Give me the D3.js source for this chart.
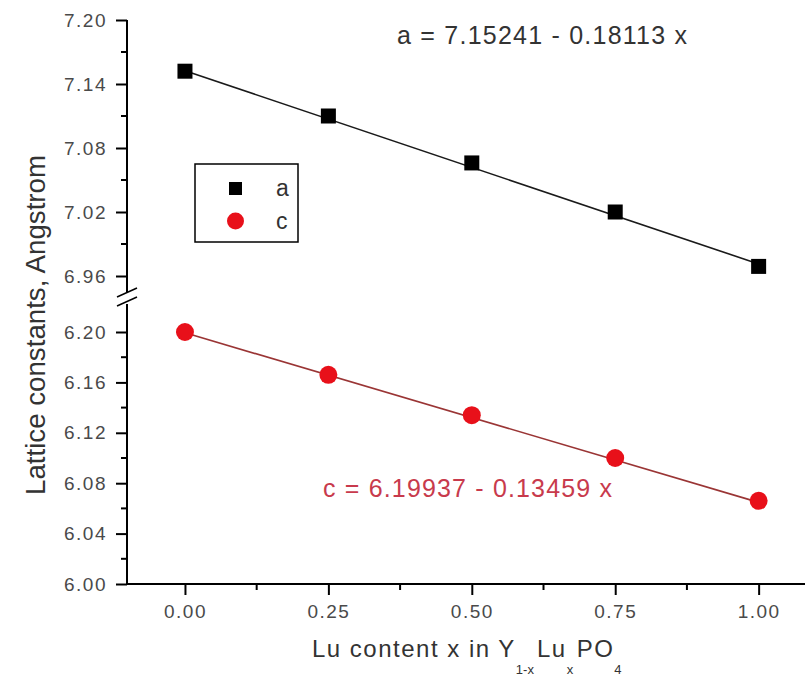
<!DOCTYPE html>
<html>
<head>
<meta charset="utf-8">
<script src="https://cdn.jsdelivr.net/npm/d3@7"></script>
<style>
  body { margin: 0; background: #fff; }
  svg text { font-family: "Liberation Sans", Arial, sans-serif; }
</style>
</head>
<body>
<div id="chart"></div>
<script>
// Lu content x
var xValues = [0, 0.25, 0.5, 0.75, 1.0];
// lattice constants (Angstrom)
var aValues = [7.152, 7.110, 7.066, 7.020, 6.969];
var cValues = [6.200, 6.166, 6.134, 6.100, 6.066];
// linear fits shown on the chart
var aFit = { intercept: 7.15241, slope: -0.18113 };
var cFit = { intercept: 6.19937, slope: -0.13459 };

var xTicks = [0, 0.25, 0.5, 0.75, 1.0];
var xMinor = [0.125, 0.375, 0.625, 0.875];
var yTopTicks = [6.96, 7.02, 7.08, 7.14, 7.20];
var yTopMinor = [6.99, 7.05, 7.11, 7.17];
var yBotTicks = [6.00, 6.04, 6.08, 6.12, 6.16, 6.20];
var yBotMinor = [6.02, 6.06, 6.10, 6.14, 6.18];

var W = 805, H = 678;
var axisX = 127, axisY = 584;

var svg = d3.select("#chart").append("svg")
  .attr("width", W).attr("height", H);

var x = d3.scaleLinear().domain([-0.1, 1.1]).range([127.6, 816]);
var yTop = d3.scaleLinear().domain([6.96, 7.20]).range([276, 20]);
var yBot = d3.scaleLinear().domain([6.00, 6.20]).range([584, 332]);

var tickFont = "19px";
var tickColor = "#4a4a4a";

// y axis, upper part
var gTop = svg.append("g").attr("transform", "translate(" + axisX + ",0)")
  .call(d3.axisLeft(yTop).tickValues(yTopTicks).tickSize(11).tickSizeOuter(0).tickPadding(9)
    .tickFormat(d3.format(".2f")));
gTop.select(".domain").remove();
gTop.append("line").attr("y1", yTop(7.20)).attr("y2", 292).attr("stroke", "#000").attr("stroke-width", 2);
gTop.selectAll(".minor").data(yTopMinor).enter().append("line")
  .attr("x1", -6).attr("x2", 0)
  .attr("y1", function(d) { return yTop(d); }).attr("y2", function(d) { return yTop(d); })
  .attr("stroke", "#000").attr("stroke-width", 2);

// y axis, lower part
var gBot = svg.append("g").attr("transform", "translate(" + axisX + ",0)")
  .call(d3.axisLeft(yBot).tickValues(yBotTicks).tickSize(11).tickSizeOuter(0).tickPadding(9)
    .tickFormat(d3.format(".2f")));
gBot.select(".domain").remove();
gBot.append("line").attr("y1", 304).attr("y2", yBot(6.00)).attr("stroke", "#000").attr("stroke-width", 2);
gBot.selectAll(".minor").data(yBotMinor).enter().append("line")
  .attr("x1", -6).attr("x2", 0)
  .attr("y1", function(d) { return yBot(d); }).attr("y2", function(d) { return yBot(d); })
  .attr("stroke", "#000").attr("stroke-width", 2);

[gTop, gBot].forEach(function(g) {
  g.selectAll(".tick line").attr("stroke", "#000").attr("stroke-width", 2);
  g.selectAll(".tick text").attr("font-size", tickFont).attr("fill", tickColor)
    .style("letter-spacing", "1.5px");
});

// axis break marks
svg.append("line").attr("x1", 117).attr("y1", 297).attr("x2", 137).attr("y2", 288)
  .attr("stroke", "#000").attr("stroke-width", 1.5);
svg.append("line").attr("x1", 117).attr("y1", 306).attr("x2", 137).attr("y2", 297)
  .attr("stroke", "#000").attr("stroke-width", 1.5);

// x axis
var gX = svg.append("g").attr("transform", "translate(0," + axisY + ")")
  .call(d3.axisBottom(x).tickValues(xTicks).tickSize(11).tickSizeOuter(0).tickPadding(10)
    .tickFormat(d3.format(".2f")));
gX.select(".domain").remove();
gX.append("line").attr("x1", axisX - 1).attr("x2", W).attr("stroke", "#000").attr("stroke-width", 2);
gX.selectAll(".tick line").attr("stroke", "#000").attr("stroke-width", 2);
gX.selectAll(".tick text").attr("font-size", tickFont).attr("fill", tickColor)
  .style("letter-spacing", "1.5px");
gX.selectAll(".minor").data(xMinor).enter().append("line")
  .attr("x1", function(d) { return x(d); }).attr("x2", function(d) { return x(d); })
  .attr("y1", 0).attr("y2", 6)
  .attr("stroke", "#000").attr("stroke-width", 2);

// fit lines
function fitLine(fit, ys, color) {
  svg.append("line")
    .attr("x1", x(0)).attr("y1", ys(fit.intercept))
    .attr("x2", x(1)).attr("y2", ys(fit.intercept + fit.slope))
    .attr("stroke", color).attr("stroke-width", 1.6);
}
fitLine(aFit, yTop, "#1a1a1a");
fitLine(cFit, yBot, "#9a3535");

// markers
svg.selectAll(".ptA").data(xValues).enter().append("rect")
  .attr("x", function(d) { return x(d) - 7.5; })
  .attr("y", function(d, i) { return yTop(aValues[i]) - 7.5; })
  .attr("width", 15).attr("height", 15).attr("fill", "#000");

svg.selectAll(".ptC").data(xValues).enter().append("circle")
  .attr("cx", function(d) { return x(d); })
  .attr("cy", function(d, i) { return yBot(cValues[i]); })
  .attr("r", 9).attr("fill", "#e8101a");

// legend
svg.append("rect").attr("x", 195).attr("y", 164).attr("width", 103).attr("height", 78)
  .attr("fill", "#fff").attr("stroke", "#000").attr("stroke-width", 1.5);
svg.append("rect").attr("x", 229).attr("y", 182).attr("width", 13).attr("height", 13).attr("fill", "#000");
svg.append("circle").attr("cx", 235.5).attr("cy", 221).attr("r", 8.5).attr("fill", "#e8101a");
svg.append("text").attr("x", 276).attr("y", 196).attr("font-size", "23px").attr("fill", "#333").text("a");
svg.append("text").attr("x", 276).attr("y", 229).attr("font-size", "23px").attr("fill", "#333").text("c");

// equations
svg.append("text").attr("x", 397).attr("y", 44).attr("font-size", "25px").attr("fill", "#333")
  .attr("textLength", 290).attr("lengthAdjust", "spacing")
  .text("a = 7.15241 - 0.18113 x");
svg.append("text").attr("x", 323).attr("y", 497).attr("font-size", "25px").attr("fill", "#c83a4c")
  .attr("textLength", 289).attr("lengthAdjust", "spacing")
  .text("c = 6.19937 - 0.13459 x");

// y label
svg.append("text")
  .attr("transform", "translate(45,325) rotate(-90)")
  .attr("text-anchor", "middle").attr("font-size", "27px").attr("fill", "#333")
  .attr("textLength", 340).attr("lengthAdjust", "spacingAndGlyphs")
  .text("Lattice constants, Angstrom");

// x label with subscripts
var xl = svg.append("text").attr("x", 312).attr("y", 657)
  .attr("font-size", "24px").attr("fill", "#333").style("letter-spacing", "1.5px");
xl.append("tspan").text("Lu content x in Y");
xl.append("tspan").attr("dy", 17).attr("font-size", "13px").style("letter-spacing", "0px").text("1-x");
xl.append("tspan").attr("dy", -17).attr("dx", 3).text("Lu");
xl.append("tspan").attr("dy", 17).attr("font-size", "13px").text("x");
xl.append("tspan").attr("dy", -17).attr("dx", 2).text("PO");
xl.append("tspan").attr("dy", 17).attr("font-size", "13px").text("4");
</script>
</body>
</html>
